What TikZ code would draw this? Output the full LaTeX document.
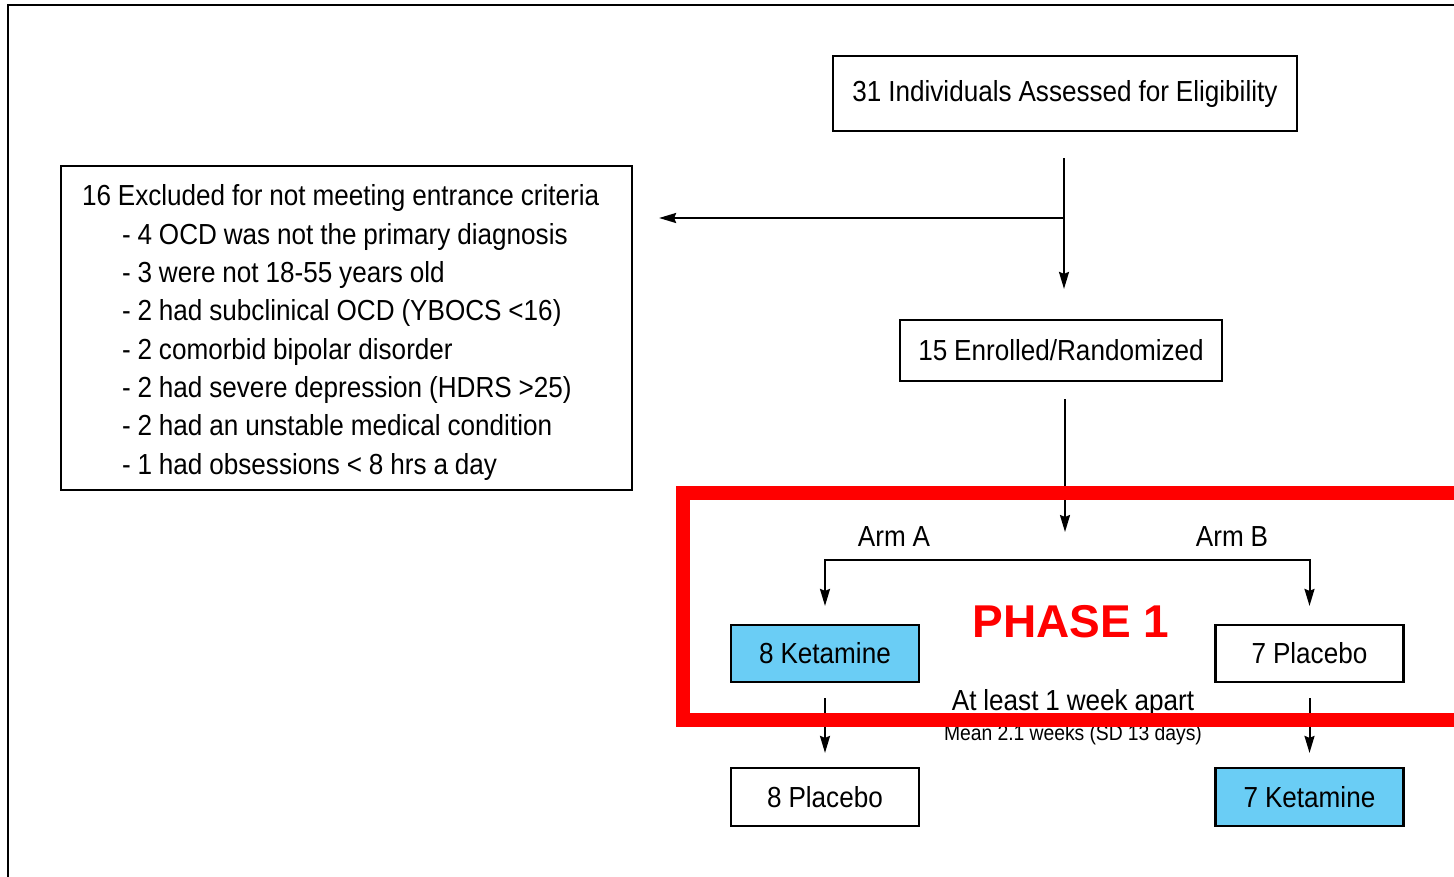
\documentclass[tikz,border=0pt]{standalone}
\usepackage{fontspec}
\setmainfont{Liberation Sans}[FakeStretch=0.9,WordSpace=0.95]
\newfontfamily\phasefont{Liberation Sans}
\usetikzlibrary{arrows.meta,positioning}
\definecolor{armblue}{RGB}{106,205,245}
\begin{document}
\begin{tikzpicture}[x=1pt,y=-1pt,
    box/.style={draw, line width=2.2pt, inner sep=0pt, font=\fontsize{29}{38.3}\selectfont},
    arr/.style={-{Stealth[length=17pt,width=10pt,inset=2pt]}, line width=2pt},
    lbl/.style={font=\fontsize{29}{32}\selectfont}]
    \useasboundingbox (0,0) rectangle (1454,876);
    \clip (0,0) rectangle (1454,876);
    \draw[line width=2pt] (8,5) rectangle (1480,900);
    % boxes
    \node[box, minimum width=464pt, minimum height=75pt] (assess) at (1065,93.5) {31 Individuals Assessed for Eligibility};
    \node[box, minimum width=571pt, minimum height=324pt, align=left] (excl) at (346.5,328)
        {\rule{0pt}{30pt}\makebox[529pt][l]{16 Excluded for not meeting entrance criteria}\\
         \hspace*{40pt}- 4 OCD was not the primary diagnosis\\
         \hspace*{40pt}- 3 were not 18-55 years old\\
         \hspace*{40pt}- 2 had subclinical OCD (YBOCS <16)\\
         \hspace*{40pt}- 2 comorbid bipolar disorder\\
         \hspace*{40pt}- 2 had severe depression (HDRS >25)\\
         \hspace*{40pt}- 2 had an unstable medical condition\\
         \hspace*{40pt}- 1 had obsessions < 8 hrs a day};
    \node[box, minimum width=322pt, minimum height=61pt] (enrol) at (1061,350.5) {15 Enrolled/Randomized};
    \node[box, fill=armblue, minimum width=188pt, minimum height=57pt] (ketA) at (825,653.5) {8 Ketamine};
    \node[box, minimum width=188pt, minimum height=57pt] (plcB) at (1309.5,653.5) {7 Placebo};
    \node[box, minimum width=188pt, minimum height=58pt] (plcA) at (825,797) {8 Placebo};
    \node[box, fill=armblue, minimum width=188pt, minimum height=58pt] (ketB) at (1309.5,797) {7 Ketamine};
    \node[lbl] (armA) at (894,537) {Arm A};
    \node[lbl] (armB) at (1232,537) {Arm B};
    \node[lbl] (apart) at (1073,703) {At least 1 week apart};
    \node[font=\fontsize{21.5}{24}\selectfont] (mean) at (1073,735) {Mean 2.1 weeks (SD 13 days)};
    % connectors
    \coordinate (split) at (1064,218);
    \coordinate (arms) at (1065,560);
    \draw[arr, shorten <=26pt, shorten >=30pt] (split |- assess.south) -- (split |- enrol.north);
    \draw[arr, shorten >=26pt] (split) -- (split -| excl.east);
    \draw[arr, shorten <=17pt, shorten >=28pt] (arms |- enrol.south) -- (arms);
    \draw[arr, shorten >=18pt] (arms) -| (ketA.north);
    \draw[arr, shorten >=18pt] (arms) -| (plcB.north);
    \draw[arr, shorten <=15pt, shorten >=14pt] (ketA.south) -- (plcA.north);
    \draw[arr, shorten <=15pt, shorten >=14pt] (plcB.south) -- (ketB.north);
    % phase 1 frame
    \draw[red, line width=14pt] (683,493) rectangle (1490,720);
    \node[text=red, font=\phasefont\fontsize{46}{50}\selectfont\bfseries] (phase) at (1071,622) {PHASE 1};
\end{tikzpicture}
\end{document}
